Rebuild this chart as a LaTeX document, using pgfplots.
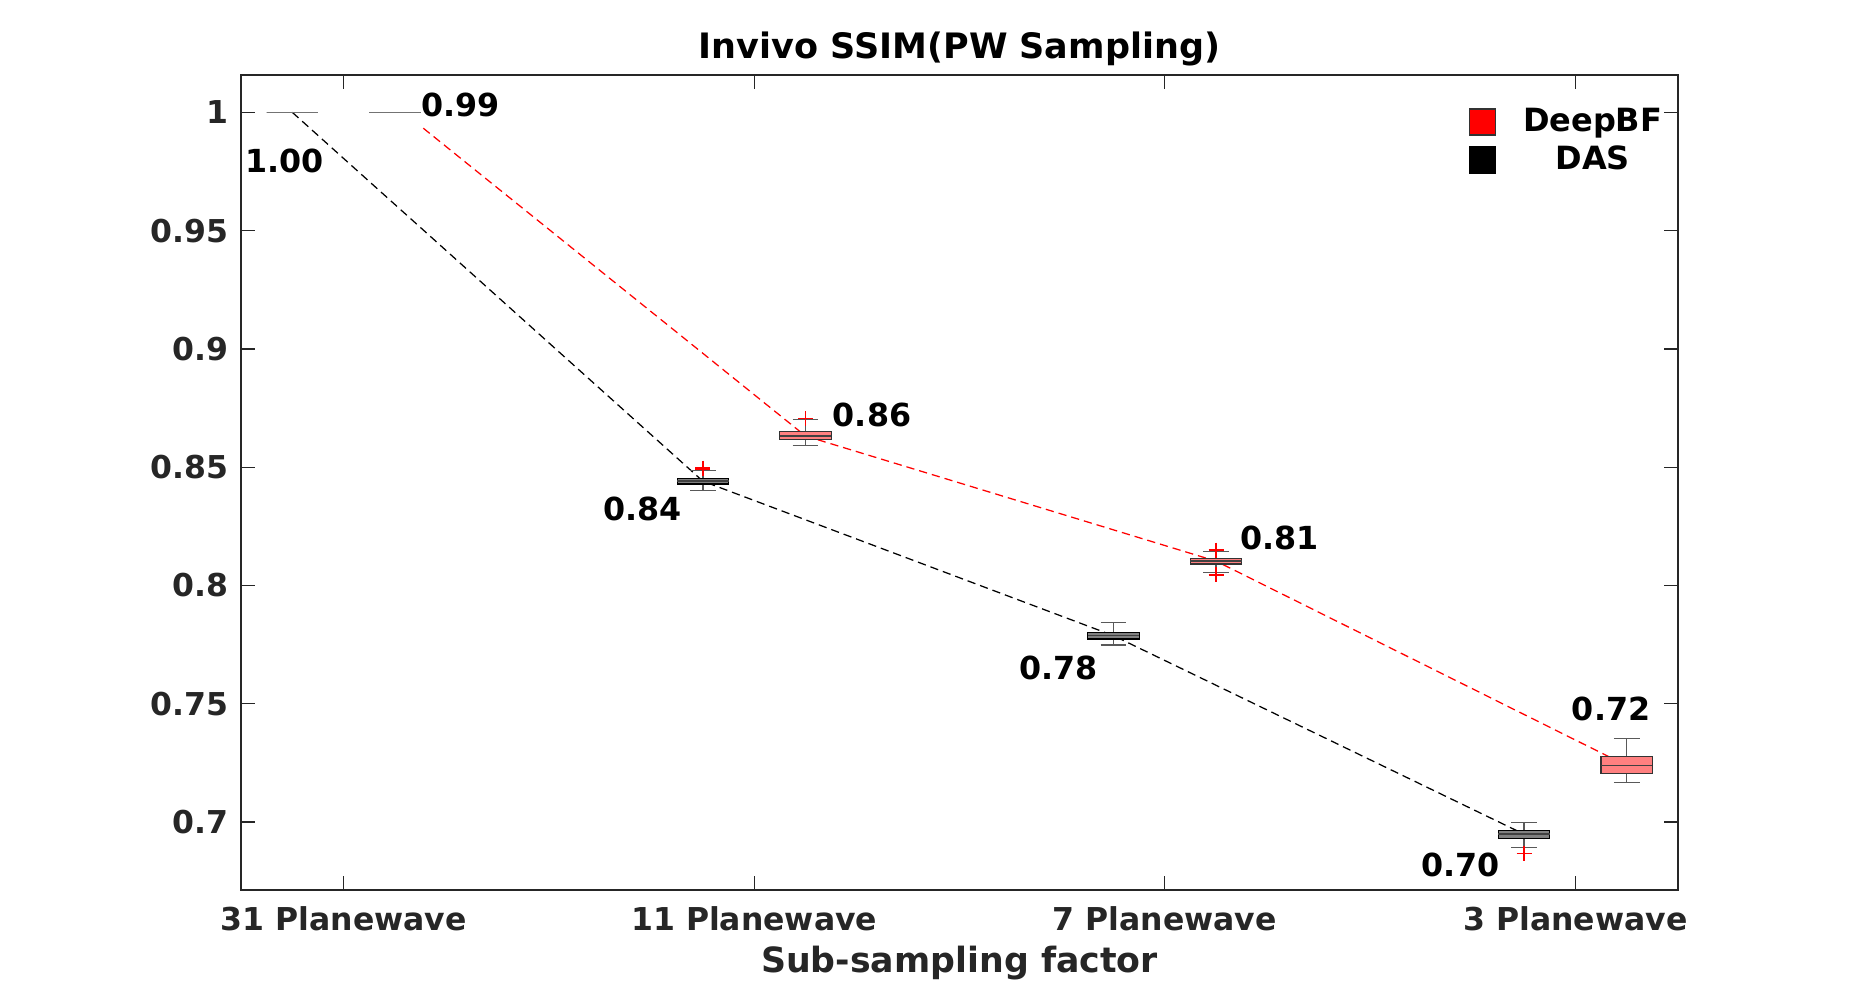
\documentclass[border=0pt]{standalone}
\usepackage{pgfplots}
\pgfplotsset{compat=1.18}
\usepgfplotslibrary{statistics}
\usepackage{fontspec}
\setmainfont{DejaVu Sans}
\definecolor{axgray}{HTML}{262626}
\definecolor{boxred}{HTML}{FF8080}
\definecolor{boxgray}{HTML}{808080}
\begin{document}
\begin{tikzpicture}
\path[use as bounding box] (0pt,0pt) rectangle (742pt,400.4pt);
\begin{axis}[
  at={(96.4pt,44.4pt)}, anchor=south west,
  width=574.8pt, height=326pt, scale only axis,
  xmin=0.75, xmax=4.25, ymin=0.6713, ymax=1.0158,
  clip=false,
  xtick={1,2,3,4},
  xticklabels={31 Planewave,11 Planewave,7 Planewave,3 Planewave},
  ytick={0.7,0.75,0.8,0.85,0.9,0.95,1},
  yticklabels={0.7,0.75,0.8,0.85,0.9,0.95,1},
  tick align=inside, major tick length=5.7pt,
  axis line style={axgray, line width=0.5pt},
  tick style={axgray, line width=0.5pt},
  ticklabel style={font=\fontsize{12.6}{14}\selectfont\bfseries, text=axgray},
  xticklabel style={anchor=base, yshift=-16.4pt},
  yticklabel style={anchor=east, inner sep=0pt, xshift=-5pt},
  title={Invivo SSIM(PW Sampling)},
  title style={font=\fontsize{14}{16}\selectfont\bfseries, text=black, at={(axis description cs:0.5,1)}, anchor=base, yshift=0.4pt},
  xlabel={Sub-sampling factor},
  xlabel style={font=\fontsize{13.9}{16}\selectfont\bfseries, text=axgray, at={(axis description cs:0.5,0)}, anchor=base, yshift=-33pt},
  legend style={draw=none, fill=none, inner sep=0pt, at={(axis description cs:0.992,0.964)}, anchor=north east,
    font=\fontsize{12.8}{15}\selectfont\bfseries, cells={anchor=center}, row sep=1.2pt, column sep=9.5pt, nodes={inner sep=1.5pt}},
  boxplot/draw direction=y,
  boxplot/box extend=0.125,
  boxplot/whisker extend=0.0625,
  boxplot/every whisker/.style={black!65, line width=0.5pt},
  boxplot/every median/.style={black!75, line width=0.55pt},
]
% connecting dashed lines (behind boxes)
\addplot[forget plot, black, line width=0.5pt, dash pattern=on 3.3pt off 2pt]
  coordinates {(0.875,1.0) (1.875,0.8441) (2.875,0.7788) (3.875,0.6949)};
\addplot[forget plot, red, line width=0.5pt, dash pattern=on 3.3pt off 2pt]
  coordinates {(1.194,0.9933) (2.125,0.8632) (3.125,0.8103) (4.125,0.7239)};

% 31 Planewave (collapsed boxes)
\addplot[forget plot, boxplot/draw direction=y, boxplot prepared={draw position=0.875, median=1.0, lower quartile=1.0, upper quartile=1.0, lower whisker=1.0, upper whisker=1.0},
  boxplot/every box/.style={draw=black!55, line width=0.6pt}, boxplot/every whisker/.style={draw=none}, boxplot/every median/.style={black!55, line width=0.6pt}] coordinates {};
\addplot[forget plot, boxplot/draw direction=y, boxplot prepared={draw position=1.125, median=1.0, lower quartile=1.0, upper quartile=1.0, lower whisker=1.0, upper whisker=1.0},
  boxplot/every box/.style={draw=black!55, line width=0.6pt}, boxplot/every whisker/.style={draw=none}, boxplot/every median/.style={black!55, line width=0.6pt}] coordinates {};

% DAS boxes
\addplot[forget plot, boxplot/draw direction=y, boxplot prepared={draw position=1.875, median=0.8441, lower quartile=0.8429, upper quartile=0.8454, lower whisker=0.8403, upper whisker=0.8487},
  boxplot/every box/.style={draw=black, fill=boxgray, line width=0.45pt}] coordinates {};
\addplot[forget plot, boxplot/draw direction=y, boxplot prepared={draw position=2.875, median=0.7788, lower quartile=0.7774, upper quartile=0.7801, lower whisker=0.7749, upper whisker=0.7845},
  boxplot/every box/.style={draw=black, fill=boxgray, line width=0.45pt}] coordinates {};
\addplot[forget plot, boxplot/draw direction=y, boxplot prepared={draw position=3.875, median=0.6949, lower quartile=0.6932, upper quartile=0.6964, lower whisker=0.6892, upper whisker=0.6999},
  boxplot/every box/.style={draw=black, fill=boxgray, line width=0.45pt}] coordinates {};

% DeepBF boxes
\addplot[forget plot, boxplot/draw direction=y, boxplot prepared={draw position=2.125, median=0.8632, lower quartile=0.8617, upper quartile=0.8650, lower whisker=0.8593, upper whisker=0.8703},
  boxplot/every box/.style={draw=black!80, fill=boxred, line width=0.45pt}] coordinates {};
\addplot[forget plot, boxplot/draw direction=y, boxplot prepared={draw position=3.125, median=0.8103, lower quartile=0.8091, upper quartile=0.8115, lower whisker=0.8056, upper whisker=0.8143},
  boxplot/every box/.style={draw=black!80, fill=boxred, line width=0.45pt}] coordinates {};
\addplot[forget plot, boxplot/draw direction=y, boxplot prepared={draw position=4.125, median=0.7239, lower quartile=0.7205, upper quartile=0.7279, lower whisker=0.7167, upper whisker=0.7352},
  boxplot/every box/.style={draw=black!80, fill=boxred, line width=0.45pt}] coordinates {};

% outliers
\addplot[forget plot, only marks, mark=+, mark size=3pt, red, line width=0.6pt]
  coordinates {(1.875,0.8496) (1.875,0.8493) (2.125,0.8707) (3.125,0.8150) (3.125,0.8045) (3.875,0.6867)};
\addplot[forget plot, only marks, mark=-, mark size=2.4pt, red, line width=1.3pt]
  coordinates {(1.875,0.8494)};

% annotations
\node[font=\fontsize{12.7}{15}\selectfont\bfseries, inner sep=0pt] at (axis cs:0.856,0.9795) {1.00};
\node[font=\fontsize{12.7}{15}\selectfont\bfseries, inner sep=0pt] at (axis cs:1.285,1.003) {0.99};
\node[font=\fontsize{12.7}{15}\selectfont\bfseries, inner sep=0pt] at (axis cs:1.728,0.8325) {0.84};
\node[font=\fontsize{12.7}{15}\selectfont\bfseries, inner sep=0pt] at (axis cs:2.287,0.872) {0.86};
\node[font=\fontsize{12.7}{15}\selectfont\bfseries, inner sep=0pt] at (axis cs:2.742,0.765) {0.78};
\node[font=\fontsize{12.7}{15}\selectfont\bfseries, inner sep=0pt] at (axis cs:3.280,0.82) {0.81};
\node[font=\fontsize{12.7}{15}\selectfont\bfseries, inner sep=0pt] at (axis cs:3.721,0.682) {0.70};
\node[font=\fontsize{12.7}{15}\selectfont\bfseries, inner sep=0pt] at (axis cs:4.087,0.748) {0.72};

% legend
\addlegendimage{only marks, mark=square*, mark size=5.2pt, mark options={fill=red, draw=black!80, line width=0.5pt}}
\addlegendentry{DeepBF}
\addlegendimage{only marks, mark=square*, mark size=5.2pt, mark options={fill=black, draw=black, line width=0.5pt}}
\addlegendentry{DAS}
\end{axis}
\end{tikzpicture}
\end{document}
